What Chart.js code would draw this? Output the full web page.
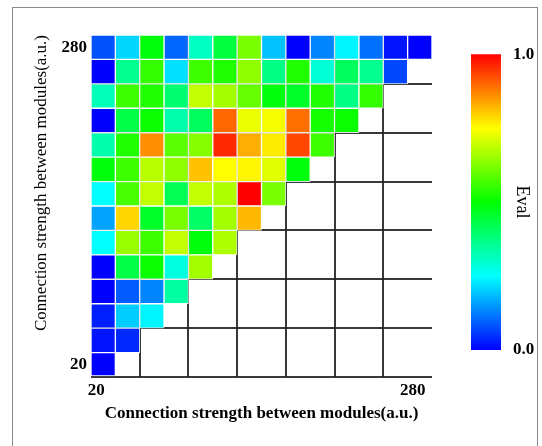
<!DOCTYPE html>
<html lang="en">
<head>
<meta charset="UTF-8">
<title>Eval heatmap</title>
<script src="https://cdn.jsdelivr.net/npm/chart.js"></script>
<style>
  html, body { margin: 0; padding: 0; background: #fff; overflow: hidden; }
  body { width: 542px; height: 446px; position: relative; }
  .frame { position: absolute; left: 12px; top: 7px; width: 524px; height: 460px; border: 1px solid #8a8a8a; }
  #heat { position: absolute; left: 0; top: 0; }
  #bar { position: absolute; left: 460px; top: 40px; }
</style>
</head>
<body>
<div class="frame"></div>
<canvas id="heat" width="542" height="446"></canvas>
<canvas id="bar" width="80" height="330"></canvas>
<script>
  // categories (connection strength, a.u.)
  const xLabels = ['20', '40', '60', '80', '100', '120', '140', '160', '180', '200', '220', '240', '260', '280'];
  const yLabels = ['20', '40', '60', '80', '100', '120', '140', '160', '180', '200', '220', '240', '260', '280'];
  const shownTicks = ['20', '280'];
  const barTicks = [0, 1];

  // Eval values, rows from top (280) to bottom (20), columns from 20 upward
  const evalRows = [
    [0.08, 0.21, 0.49, 0.10, 0.31, 0.44, 0.62, 0.19, 0.00, 0.13, 0.24, 0.11, 0.02, 0.00],
    [0.00, 0.36, 0.55, 0.22, 0.56, 0.53, 0.64, 0.37, 0.53, 0.29, 0.41, 0.36, 0.07],
    [0.32, 0.56, 0.53, 0.39, 0.69, 0.66, 0.60, 0.49, 0.46, 0.53, 0.37, 0.55],
    [0.00, 0.43, 0.51, 0.33, 0.41, 0.90, 0.73, 0.74, 0.89, 0.52, 0.51],
    [0.33, 0.53, 0.86, 0.59, 0.63, 0.96, 0.83, 0.77, 0.93, 0.56],
    [0.49, 0.56, 0.68, 0.64, 0.81, 0.75, 0.76, 0.72, 0.49],
    [0.25, 0.57, 0.69, 0.42, 0.69, 0.67, 1.00, 0.62],
    [0.16, 0.79, 0.46, 0.62, 0.40, 0.66, 0.82],
    [0.25, 0.65, 0.56, 0.69, 0.49, 0.67],
    [0.00, 0.43, 0.51, 0.28, 0.66],
    [0.00, 0.09, 0.13, 0.34],
    [0.03, 0.20, 0.24],
    [0.02, 0.04],
    [0.00]
  ];

  const jetStops = [[0, 0, 255], [0, 255, 255], [0, 255, 0], [255, 255, 0], [255, 0, 0]];

  function jet(v) {
    const t = Math.min(Math.max(v, 0), 1) * 4;
    const i = Math.min(Math.floor(t), 3);
    const f = t - i;
    const a = jetStops[i], b = jetStops[i + 1];
    const c = a.map((x, k) => Math.round(x + (b[k] - x) * f));
    return `rgb(${c[0]}, ${c[1]}, ${c[2]})`;
  }

  const cells = [];
  const n = yLabels.length;
  evalRows.forEach((row, k) => {
    const r = n - 1 - k;
    row.forEach((v, c) => {
      cells.push({ x: xLabels[c], y: [r, r + 1], v: v });
    });
  });

  const serif = 'Liberation Serif, Times New Roman, serif';
  const lineCol = 'rgba(35, 35, 35, 0.9)';

  new Chart(document.getElementById('heat'), {
    type: 'bar',
    data: {
      labels: xLabels,
      datasets: [{
        data: cells,
        backgroundColor: cells.map(d => jet(d.v)),
        borderColor: 'rgba(255, 255, 255, 0.85)',
        borderWidth: 1,
        borderSkipped: false,
        barPercentage: 1,
        categoryPercentage: 1
      }]
    },
    options: {
      responsive: false,
      animation: false,
      layout: { padding: { left: 27, top: 35, right: 110, bottom: 19 } },
      plugins: { legend: { display: false }, tooltip: { enabled: false } },
      scales: {
        x: {
          afterFit: (s) => { s.height = 50; },
          border: { display: false },
          grid: {
            drawTicks: false,
            lineWidth: 2,
            color: (ctx) => (ctx.index > 0 && ctx.index % 2 === 0) ? lineCol : 'rgba(0,0,0,0)'
          },
          ticks: {
            autoSkip: false,
            maxRotation: 0,
            padding: 3,
            labelOffset: -7,
            color: '#000',
            font: { family: serif, size: 17, weight: 'bold' },
            callback: function (val, i) {
              const lab = xLabels[i];
              return shownTicks.includes(lab) ? lab : '';
            }
          },
          title: {
            display: true,
            text: 'Connection strength between modules(a.u.)',
            color: '#000',
            font: { family: serif, size: 17, weight: 'bold' },
            padding: { top: 4, bottom: 3 }
          }
        },
        y: {
          min: 0,
          max: n,
          afterFit: (s) => { s.width = 64; },
          afterBuildTicks: (axis) => {
            const vals = [0, 0.5, 2, 4, 6, 8, 10, 12, n - 0.5, n];
            axis.ticks = vals.map(v => ({ value: v }));
          },
          border: { display: false },
          grid: {
            drawTicks: false,
            lineWidth: 2,
            color: (ctx) => {
              const v = ctx.tick ? ctx.tick.value : -1;
              return (Number.isInteger(v) && v % 2 === 0 && v < n) ? lineCol : 'rgba(0,0,0,0)';
            }
          },
          ticks: {
            autoSkip: false,
            padding: 4,
            color: '#000',
            font: { family: serif, size: 17, weight: 'bold' },
            callback: function (val) {
              if (Number.isInteger(val)) return '';
              const lab = yLabels[Math.floor(val)];
              return shownTicks.includes(lab) ? lab : '';
            }
          },
          title: {
            display: true,
            align: 'end',
            text: 'Connection strength between modules(a.u.)',
            color: '#000',
            font: { family: serif, size: 17 },
            padding: { top: 4, bottom: 4 }
          }
        }
      }
    }
  });

  // colour bar
  new Chart(document.getElementById('bar'), {
    type: 'bar',
    data: {
      labels: ['Eval'],
      datasets: [{
        data: [[barTicks[0], barTicks[1]]],
        barPercentage: 1,
        categoryPercentage: 1,
        borderWidth: 0,
        backgroundColor: (ctx) => {
          const area = ctx.chart.chartArea;
          if (!area) return 'blue';
          const g = ctx.chart.ctx.createLinearGradient(0, area.bottom, 0, area.top);
          jetStops.forEach((c, i) => g.addColorStop(i / 4, `rgb(${c[0]}, ${c[1]}, ${c[2]})`));
          return g;
        }
      }]
    },
    options: {
      responsive: false,
      animation: false,
      layout: { padding: { left: 11, top: 13, right: 0, bottom: 20 } },
      plugins: { legend: { display: false }, tooltip: { enabled: false } },
      scales: {
        x: { display: false },
        y: {
          position: 'right',
          min: barTicks[0],
          max: barTicks[1],
          afterFit: (s) => { s.width = 39; },
          afterBuildTicks: (axis) => { axis.ticks = barTicks.map(v => ({ value: v })); },
          border: { display: false },
          grid: { display: false },
          ticks: {
            padding: 4,
            color: '#000',
            font: { family: serif, size: 17, weight: 'bold' },
            callback: (v) => Number(v).toFixed(1)
          },
          title: {
            display: true,
            text: 'Eval',
            color: '#000',
            font: { family: serif, size: 18 },
            padding: { top: 7, bottom: 0 }
          }
        }
      }
    }
  });
</script>
</body>
</html>
